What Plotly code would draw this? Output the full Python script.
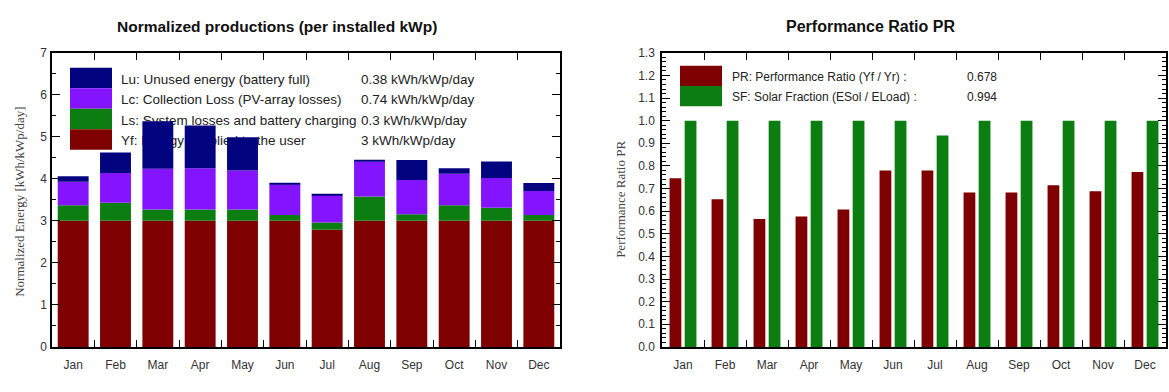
import numpy as np
import plotly.graph_objects as go

months = ["Jan", "Feb", "Mar", "Apr", "May", "Jun", "Jul", "Aug", "Sep", "Oct", "Nov", "Dec"]
# Normalized productions (kWh/kWp/day)
yf = [3.0, 3.0, 3.0, 3.0, 3.0, 3.0, 2.79, 3.0, 3.0, 3.0, 3.0, 3.0]
ls = [0.37, 0.43, 0.27, 0.27, 0.27, 0.14, 0.17, 0.58, 0.16, 0.37, 0.31, 0.14]
lc = [0.56, 0.71, 0.97, 0.98, 0.93, 0.73, 0.66, 0.83, 0.81, 0.75, 0.71, 0.57]
lu = [0.13, 0.49, 1.13, 1.02, 0.79, 0.02, 0.02, 0.04, 0.48, 0.13, 0.39, 0.19]
# Performance ratio / solar fraction
pr = [0.745, 0.653, 0.565, 0.576, 0.607, 0.78, 0.78, 0.683, 0.683, 0.714, 0.688, 0.773]
sf = [1.0, 1.0, 1.0, 1.0, 1.0, 1.0, 0.934, 1.0, 1.0, 1.0, 1.0, 1.0]

left_legend = [
    ("Lu: Unused energy (battery full)", "0.38 kWh/kWp/day"),
    ("Lc: Collection Loss (PV-array losses)", "0.74 kWh/kWp/day"),
    ("Ls: System losses and battery charging", "0.3 kWh/kWp/day"),
    ("Yf: Energy supplied to the user", "3 kWh/kWp/day"),
]
right_legend = [
    ("PR: Performance Ratio (Yf / Yr) :", "0.678"),
    ("SF: Solar Fraction (ESol / ELoad) :", "0.994"),
]

C_YF = "#7f0000"
C_LS = "#0c7d10"
C_LC = "#8414ff"
C_LU = "#02037e"
C_SF = "#0c7d10"

W, H = 1169, 392
FONT = "Liberation Sans, Arial, sans-serif"
SERIF = "Liberation Serif, Times New Roman, serif"

def px(x):
    return x / W

def py(y):
    return (H - y) / H

fig = go.Figure()

series = [(yf, C_YF, "Yf"), (ls, C_LS, "Ls"), (lc, C_LC, "Lc"), (lu, C_LU, "Lu")]
base = np.zeros(len(months))
for vals, col, name in series:
    fig.add_trace(go.Bar(x=months, y=vals, base=base.copy(), marker_color=col,
                         marker_line_width=0, width=0.73, name=name,
                         xaxis="x", yaxis="y", showlegend=False))
    base = base + np.array(vals)

fig.add_trace(go.Bar(x=months, y=pr, marker_color=C_YF, marker_line_width=0,
                     width=0.28, offset=-0.32, xaxis="x2", yaxis="y2", showlegend=False))
fig.add_trace(go.Bar(x=months, y=sf, marker_color=C_SF, marker_line_width=0,
                     width=0.28, offset=0.04, xaxis="x2", yaxis="y2", showlegend=False))

ydom = [py(352.5), py(47.5)]
axis_common = dict(showline=True, linecolor="black", linewidth=1.5, mirror="ticks",
                   ticks="inside", tickcolor="black", showgrid=False, zeroline=False,
                   tickfont=dict(family=FONT, size=12, color="#333"))

fig.update_layout(
    width=W, height=H, margin=dict(l=0, r=0, t=0, b=0),
    paper_bgcolor="white", plot_bgcolor="white", barmode="overlay",
    xaxis=dict(domain=[px(52), px(560)], anchor="y", type="category",
               tickson="boundaries", ticklen=7, tickwidth=1, ticklabelstandoff=6,
               **axis_common),
    yaxis=dict(domain=ydom, anchor="x", range=[0, 7], dtick=1, ticklen=8, tickwidth=1,
               ticklabelstandoff=1,
               minor=dict(ticks="inside", dtick=0.5, ticklen=4, tickcolor="black"),
               **axis_common),
    xaxis2=dict(domain=[px(662), px(1166)], anchor="y2", type="category",
                tickson="boundaries", ticklen=7, tickwidth=1, ticklabelstandoff=6,
                **axis_common),
    yaxis2=dict(domain=ydom, anchor="x2", range=[0, 1.3], dtick=0.1, tickformat=".1f",
                ticklen=8, tickwidth=1, ticklabelstandoff=3,
                minor=dict(ticks="inside", dtick=0.02, ticklen=4, tickcolor="black"),
                **axis_common),
)

shapes = []
annotations = []

# Titles
annotations.append(dict(text="<b>Normalized productions (per installed kWp)</b>", x=px(277), y=py(20),
                        xref="paper", yref="paper", showarrow=False,
                        xanchor="center", yanchor="middle",
                        font=dict(family=FONT, size=15.5, color="#111")))
annotations.append(dict(text="<b>Performance Ratio PR</b>", x=px(870), y=py(20),
                        xref="paper", yref="paper", showarrow=False,
                        xanchor="center", yanchor="middle",
                        font=dict(family=FONT, size=16, color="#111")))
# Y titles
annotations.append(dict(text="Normalized Energy [kWh/kWp/day]", x=px(20), y=py(202),
                        xref="paper", yref="paper", showarrow=False, textangle=-90,
                        xanchor="center", yanchor="middle",
                        font=dict(family=SERIF, size=13, color="#444")))
annotations.append(dict(text="Performance Ratio PR", x=px(621), y=py(200),
                        xref="paper", yref="paper", showarrow=False, textangle=-90,
                        xanchor="center", yanchor="middle",
                        font=dict(family=SERIF, size=13, color="#444")))

# Left legend (drawn beneath the bars)
lcols = [C_LU, C_LC, C_LS, C_YF]
for i, ((lab, val), col) in enumerate(zip(left_legend, lcols)):
    y0 = 63 + i * 21.25
    y1 = y0 + 21.25
    shapes.append(dict(type="rect", xref="paper", yref="paper", layer="below",
                       x0=px(70), x1=px(112), y0=py(y1), y1=py(y0),
                       fillcolor=col, line=dict(width=0)))
    yc = (y0 + y1) / 2
    for xt, txt in ((118, lab), (358, val)):
        shapes.append(dict(type="rect", xref="paper", yref="paper", layer="below",
                           x0=px(xt), x1=px(xt + 10), y0=py(yc + 8), y1=py(yc - 8),
                           fillcolor="rgba(0,0,0,0)", line=dict(width=0),
                           label=dict(text=txt, textposition="middle left", padding=0,
                                      font=dict(family=FONT, size=13.5, color="#222"))))

# Right legend
rcols = [C_YF, C_SF]
for i, ((lab, val), col) in enumerate(zip(right_legend, rcols)):
    y0 = 61 + i * 21
    y1 = y0 + 21
    shapes.append(dict(type="rect", xref="paper", yref="paper", layer="below",
                       x0=px(680), x1=px(722), y0=py(y1), y1=py(y0),
                       fillcolor=col, line=dict(width=0)))
    yc = (y0 + y1) / 2
    for xt, txt in ((729, lab), (964, val)):
        shapes.append(dict(type="rect", xref="paper", yref="paper", layer="below",
                           x0=px(xt), x1=px(xt + 10), y0=py(yc + 8), y1=py(yc - 8),
                           fillcolor="rgba(0,0,0,0)", line=dict(width=0),
                           label=dict(text=txt, textposition="middle left", padding=0,
                                      font=dict(family=FONT, size=12, color="#222"))))

fig.update_layout(shapes=shapes, annotations=annotations)
fig.write_html("out.html")
